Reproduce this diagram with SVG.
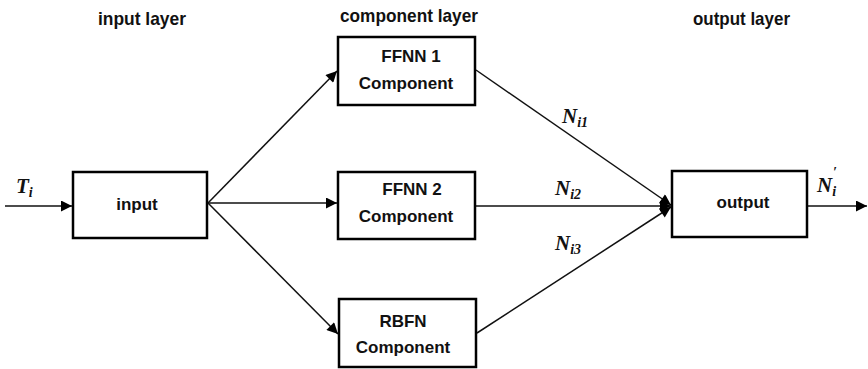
<svg xmlns="http://www.w3.org/2000/svg" width="868" height="369" viewBox="0 0 868 369">
<style>
.box{fill:#fff;stroke:#000;stroke-width:2.5}
.lbl{font-family:"Liberation Sans",Arial,sans-serif;font-weight:bold;font-size:17px;fill:#111;text-anchor:middle}
.hdr{font-family:"Liberation Sans",Arial,sans-serif;font-weight:bold;font-size:19px;fill:#111}
.m{font-family:"Liberation Serif","Times New Roman",serif;font-style:italic;font-weight:bold;font-size:21px;fill:#111}
.s{font-size:14px}
.c{stroke:#111;stroke-width:1.5;fill:none;marker-end:url(#ah)}
</style>
<defs>
<marker id="ah" viewBox="0 0 10 10" refX="10" refY="5" markerWidth="18" markerHeight="11" markerUnits="userSpaceOnUse" orient="auto">
<path d="M0,0 L10,5 L0,10 Z" fill="#000"/>
</marker>
</defs>
<rect width="868" height="369" fill="#fff"/>
<g id="headers">
<text class="hdr" x="98" y="25" textLength="88" lengthAdjust="spacingAndGlyphs">input layer</text>
<text class="hdr" x="340" y="22" textLength="138" lengthAdjust="spacingAndGlyphs">component layer</text>
<text class="hdr" x="693" y="25" textLength="97" lengthAdjust="spacingAndGlyphs">output layer</text>
</g>
<g id="connectors">
<line class="c" x1="5" y1="206" x2="72" y2="206"/>
<line class="c" x1="208" y1="203" x2="337" y2="71"/>
<line class="c" x1="208" y1="203" x2="337" y2="203"/>
<line class="c" x1="208" y1="203" x2="338" y2="334"/>
<line class="c" x1="476" y1="70" x2="671" y2="205"/>
<line class="c" x1="476" y1="206" x2="671" y2="206"/>
<line class="c" x1="477" y1="333" x2="671" y2="207"/>
<line class="c" x1="808" y1="206" x2="867" y2="206"/>
</g>
<g id="labels">
<text class="m" x="16" y="193">T<tspan class="s" dy="4">i</tspan></text>
<text class="m" x="562" y="123">N<tspan class="s" dy="4">i1</tspan></text>
<text class="m" x="555" y="195">N<tspan class="s" dy="4">i2</tspan></text>
<text class="m" x="555" y="250">N<tspan class="s" dy="4">i3</tspan></text>
<text class="m" x="817" y="192">N<tspan class="s" dy="4">i</tspan><tspan class="s" dx="-3" dy="-19">′</tspan></text>
</g>
<g id="input">
<rect class="box" x="73" y="172" width="134" height="66"/>
<text class="lbl" x="137" y="210">input</text>
</g>
<g id="ffnn1">
<rect class="box" x="338" y="37" width="137" height="68"/>
<text class="lbl" x="411" y="62">FFNN 1</text>
<text class="lbl" x="406" y="89">Component</text>
</g>
<g id="ffnn2">
<rect class="box" x="338" y="172" width="137" height="67"/>
<text class="lbl" x="412" y="195">FFNN 2</text>
<text class="lbl" x="406" y="222">Component</text>
</g>
<g id="rbfn">
<rect class="box" x="339" y="299" width="137" height="68"/>
<text class="lbl" x="403" y="327">RBFN</text>
<text class="lbl" x="403" y="353">Component</text>
</g>
<g id="output">
<rect class="box" x="672" y="171" width="135" height="66"/>
<text class="lbl" x="743" y="208">output</text>
</g>
</svg>
